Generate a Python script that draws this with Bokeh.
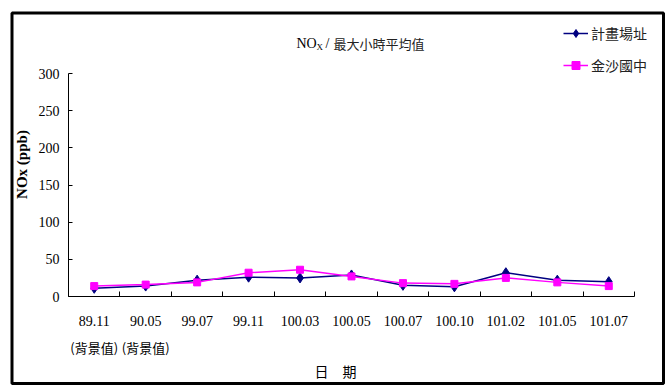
from math import pi

from bokeh.embed import file_html
from bokeh.models import (BoxAnnotation, FixedTicker, Label, Legend,
                          LegendItem, Range1d)
from bokeh.plotting import figure
from bokeh.resources import INLINE

# Sampling dates (ROC year.month) and NOx maximum hourly averages (ppb)
dates = ["89.11", "90.05", "99.07", "99.11", "100.03", "100.05",
         "100.07", "100.10", "101.02", "101.05", "101.07"]
background_note = "(背景值)"
background_count = 2          # first two dates are baseline surveys
site_name = "計畫場址"
school_name = "金沙國中"
site_nox = [11, 14, 22, 26, 25, 29, 15, 13, 32, 22, 20]
school_nox = [14, 16, 19, 32, 36, 27, 18, 17, 25, 19, 14]
y_ticks = [0, 50, 100, 150, 200, 250, 300]

SERIF = "Liberation Serif"
CJK = "Noto Sans CJK TC"
NAVY = "#000080"
MAGENTA = "#FF00FF"

W, H = 672, 385
# canvas pixels where the axes box sits
BOX_L, BOX_R, BOX_T, BOX_B = 68, 634, 73, 296
n = len(dates)
x_lo, x_hi = -0.5, n - 0.5
y_lo, y_hi = 0, 300


def dx(px):
    """Canvas pixel column -> data x."""
    return x_lo + (px - BOX_L) * (x_hi - x_lo) / (BOX_R - BOX_L)


def dy(py):
    """Canvas pixel row -> data y."""
    return y_lo + (BOX_B - py) * (y_hi - y_lo) / (BOX_B - BOX_T)


# The frame fills the whole canvas; the axes sit inside it at fixed spots.
p = figure(width=W, height=H, output_backend="svg", toolbar_location=None,
           x_range=Range1d(dx(0), dx(W)), y_range=Range1d(dy(H), dy(0)),
           min_border=0, min_border_left=0, min_border_right=0,
           min_border_top=0, min_border_bottom=0)
p.title.visible = False
p.outline_line_color = None
p.xgrid.visible = False
p.ygrid.visible = False
p.background_fill_color = "white"
p.border_fill_color = "white"

xs = list(range(n))
site_line = p.line(xs, site_nox, line_color=NAVY, line_width=1.5)
site_pts = p.scatter(xs, site_nox, marker="diamond", size=10,
                     fill_color=NAVY, line_color=NAVY)
school_line = p.line(xs, school_nox, line_color=MAGENTA, line_width=1.5)
school_pts = p.scatter(xs, school_nox, marker="square", size=7,
                       fill_color=MAGENTA, line_color=MAGENTA)

# x axis: labels centred on categories, tick marks between them
xa = p.xaxis[0]
xa.fixed_location = y_lo
xa.bounds = (x_lo, x_hi)
xa.ticker = FixedTicker(ticks=xs, minor_ticks=[i - 0.5 for i in range(n + 1)])
xa.major_label_overrides = {i: d for i, d in enumerate(dates)}
xa.major_tick_in = 0
xa.major_tick_out = 0
xa.minor_tick_in = 5
xa.minor_tick_out = 0
xa.major_label_standoff = 19
xa.major_label_text_font = SERIF
xa.major_label_text_font_size = "14px"
xa.major_label_text_color = "black"
xa.axis_line_color = "black"
xa.major_tick_line_color = "black"
xa.minor_tick_line_color = "black"

ya = p.yaxis[0]
ya.fixed_location = x_lo
ya.bounds = (y_lo, y_hi)
ya.ticker = FixedTicker(ticks=y_ticks)
ya.major_tick_in = 4
ya.major_tick_out = 0
ya.minor_tick_in = 0
ya.minor_tick_out = 0
ya.major_label_standoff = 9
ya.major_label_text_font = SERIF
ya.major_label_text_font_size = "14px"
ya.major_label_text_color = "black"
ya.axis_line_color = "black"
ya.major_tick_line_color = "black"

# second line under the baseline dates
for i in range(background_count):
    p.add_layout(Label(x=i, y=dy(347), text=background_note,
                       text_align="center", text_baseline="middle",
                       text_font=CJK, text_font_size="13px",
                       text_color="black"))

# axis titles
p.add_layout(Label(x=dx(335), y=dy(370), text="日　期",
                   text_align="center", text_baseline="middle",
                   text_font=CJK, text_font_size="14px", text_color="black"))
p.add_layout(Label(x=dx(21), y=dy(164), text="NOx (ppb)", angle=pi / 2,
                   text_align="center", text_baseline="middle",
                   text_font=SERIF, text_font_style="bold",
                   text_font_size="15px", text_color="black"))

# chart title with subscript X
p.add_layout(Label(x=dx(296), y=dy(42.5), text="NO", text_align="left",
                   text_baseline="middle", text_font=SERIF,
                   text_font_size="14px", text_color="black"))
p.add_layout(Label(x=dx(316), y=dy(46.5), text="X", text_align="left",
                   text_baseline="middle", text_font=SERIF,
                   text_font_size="9px", text_color="black"))
p.add_layout(Label(x=dx(325), y=dy(42.5), text="/", text_align="left",
                   text_baseline="middle", text_font=SERIF,
                   text_font_size="14px", text_color="black"))
p.add_layout(Label(x=dx(333), y=dy(42.5), text="最大小時平均值",
                   text_align="left", text_baseline="middle", text_font=CJK,
                   text_font_size="13px", text_color="#222222"))

legend = Legend(items=[LegendItem(label=site_name, renderers=[site_line, site_pts]),
                       LegendItem(label=school_name, renderers=[school_line, school_pts])],
                location=(563, 310), orientation="vertical",
                glyph_width=25, glyph_height=20, spacing=12, padding=0,
                margin=0, label_standoff=3, border_line_color=None,
                background_fill_alpha=0, label_text_font=CJK,
                label_text_font_size="14px", label_text_color="#222222")
p.add_layout(legend)

# chart-area border
p.add_layout(BoxAnnotation(left=dx(11.5), right=dx(663), top=dy(12.5),
                           bottom=dy(383), fill_color=None, fill_alpha=0,
                           line_color="black", line_alpha=1.0, line_width=3))

open("out.html", "w").write(file_html(p, INLINE, "NOx"))
